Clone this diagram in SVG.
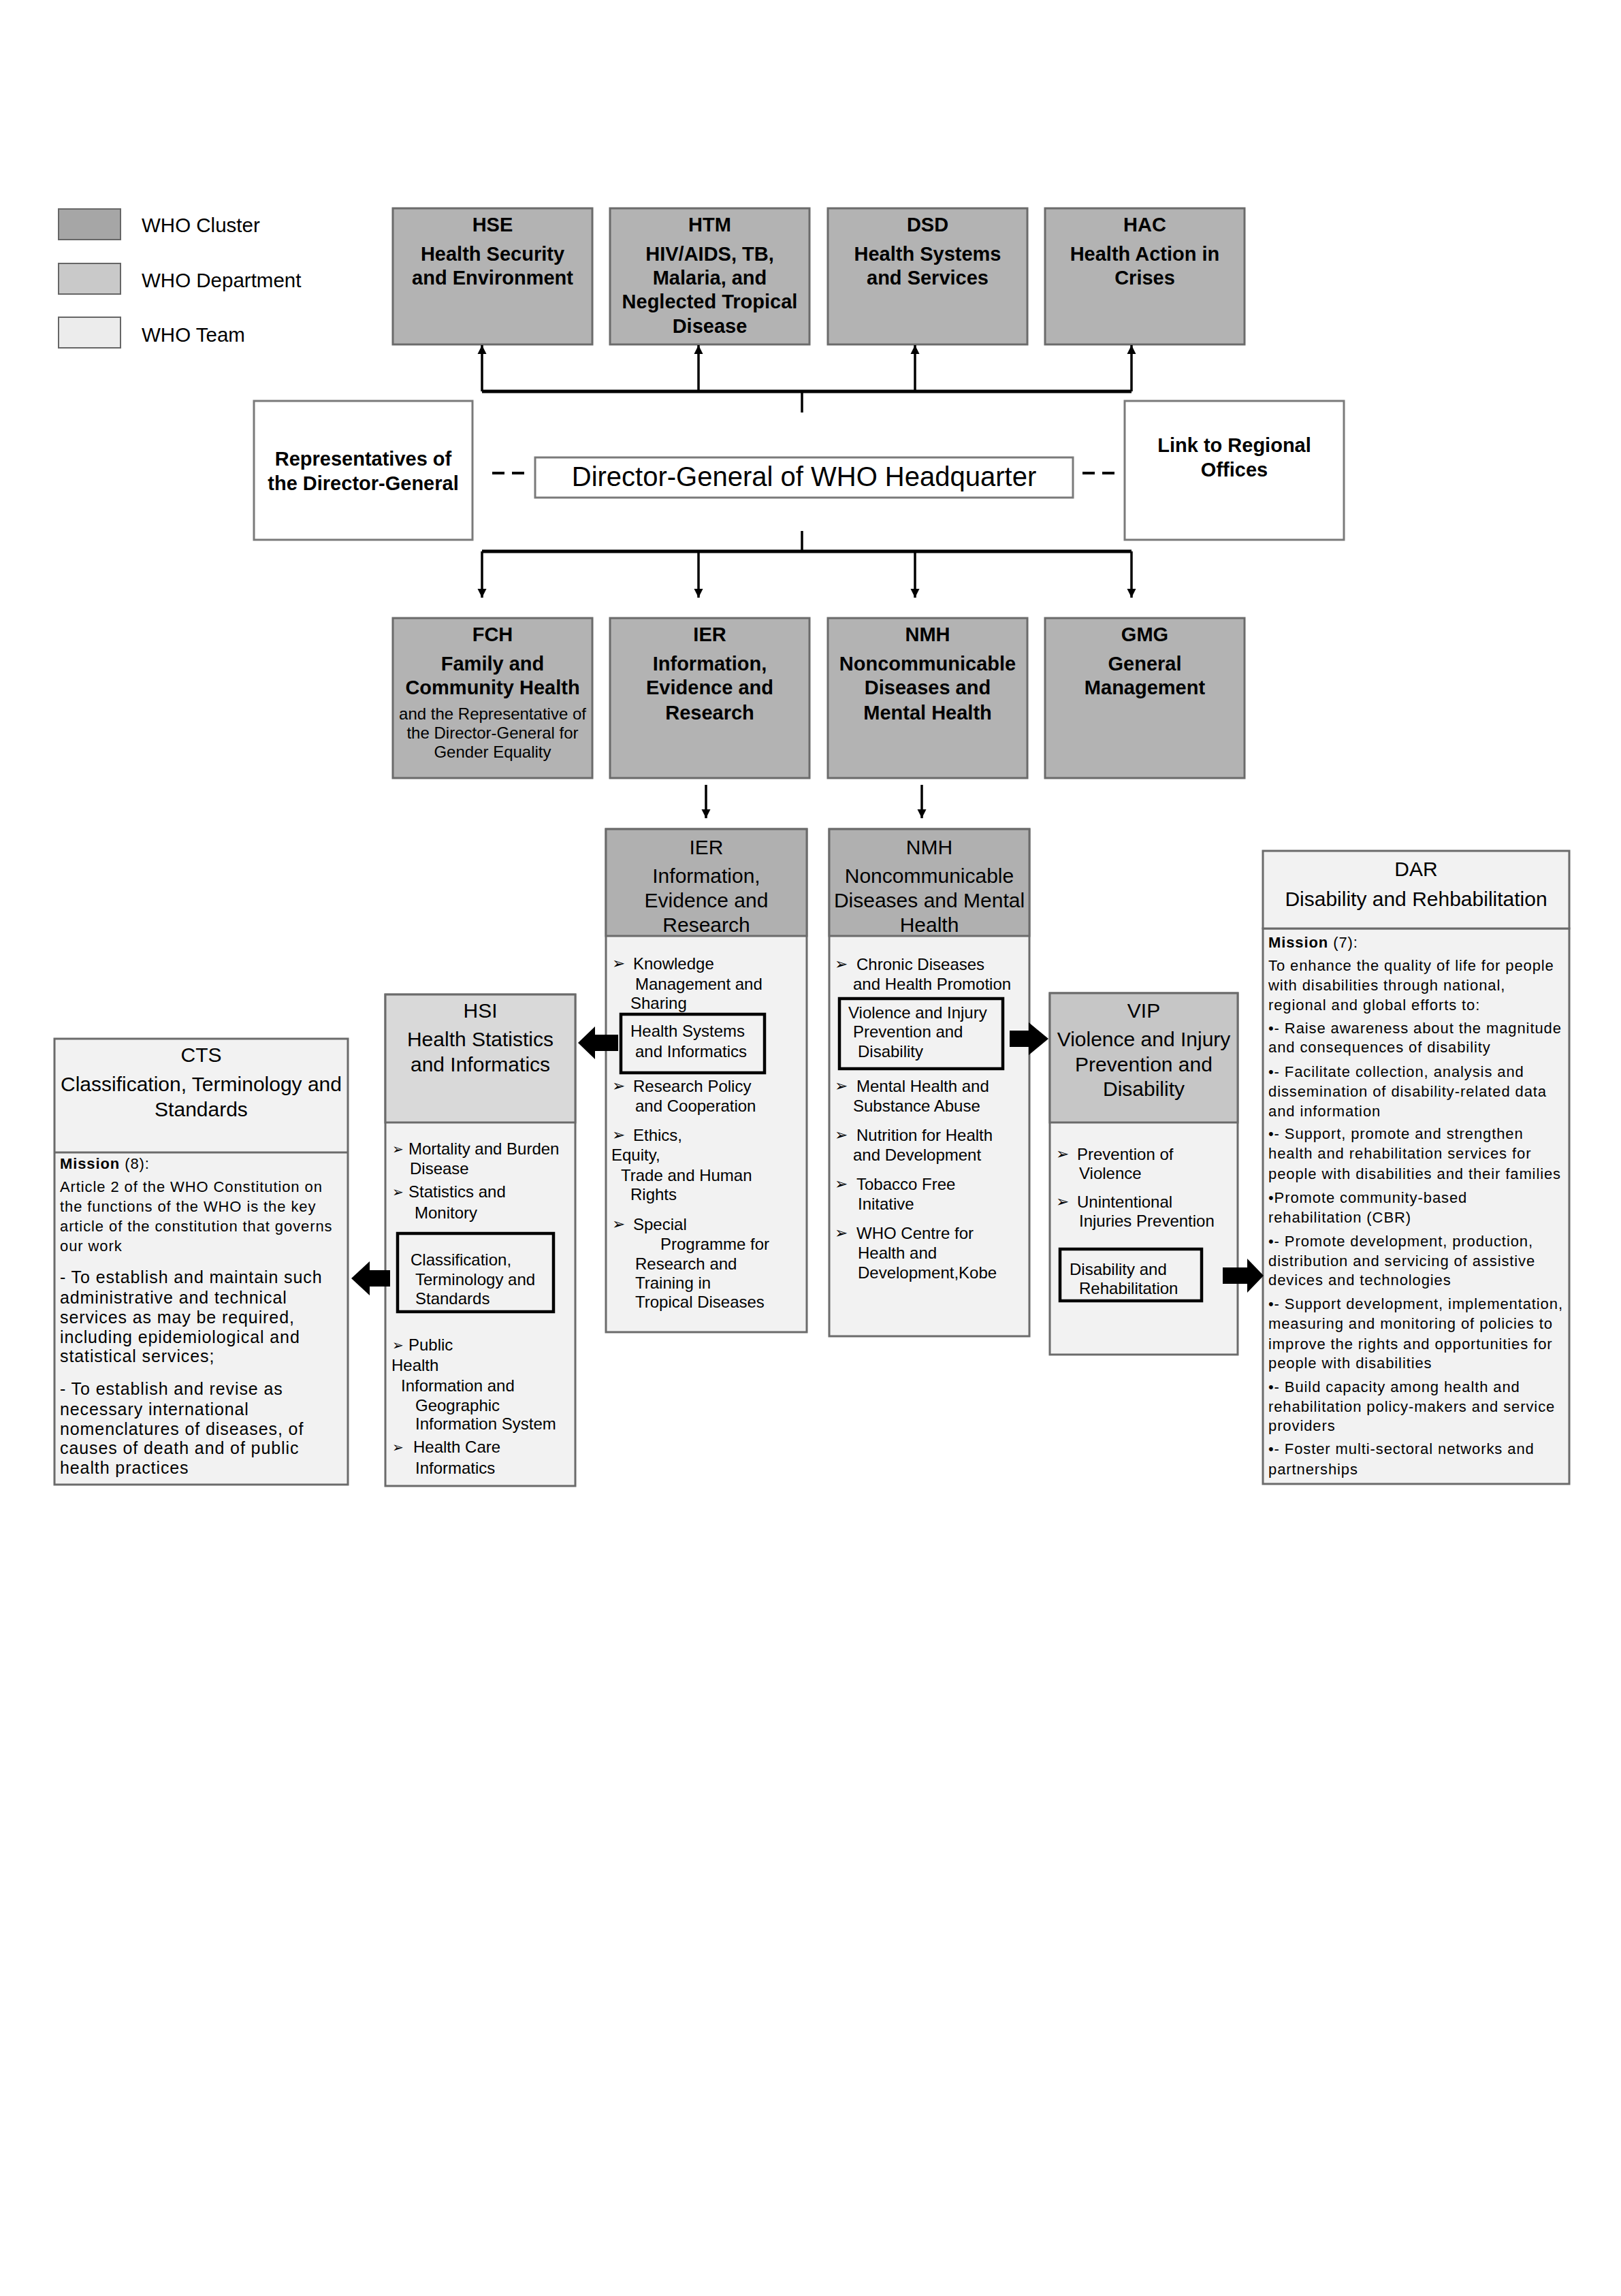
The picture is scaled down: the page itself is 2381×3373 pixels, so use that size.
<svg xmlns="http://www.w3.org/2000/svg" width="2381" height="3373" viewBox="0 0 2381 3373">
<style>
text{font-family:"Liberation Sans",Arial,sans-serif;fill:#000}
.cl{fill:#b3b3b3;stroke:#6b6b6b;stroke-width:3}
.wb{fill:#fff;stroke:#7a7a7a;stroke-width:3}
.bd{fill:#f2f2f2;stroke:#6b6b6b;stroke-width:3}
.hd1{fill:#b0b0b0;stroke:#6b6b6b;stroke-width:3}
.hd2{fill:#d9d9d9;stroke:#6b6b6b;stroke-width:3}
.hd3{fill:#c6c6c6;stroke:#6b6b6b;stroke-width:3}
.ib{fill:none;stroke:#000;stroke-width:4.5}
.sw{stroke:#666;stroke-width:2}
.tb{font-size:29px;font-weight:bold;text-anchor:middle}
.ts{font-size:24px;text-anchor:middle}
.t30{font-size:30px;text-anchor:middle}
.lg{font-size:29.5px}
.t24{font-size:24px}
.bul{font-family:"DejaVu Sans",sans-serif;font-size:23px}
.bus{font-family:"DejaVu Sans",sans-serif;font-size:20px}
.m22{font-size:22px;letter-spacing:0.9px}
.m25{font-size:25px;letter-spacing:0.9px}
.ln{stroke:#000;stroke-width:3.5;fill:none}
.bar{stroke:#000;stroke-width:5;fill:none}
.dash{stroke:#000;stroke-width:4;stroke-dasharray:18 11;fill:none}
.blk{fill:#000}
</style>
<defs>
<marker id="ah" viewBox="0 0 10 10" refX="10" refY="5" markerWidth="13" markerHeight="16" markerUnits="userSpaceOnUse" orient="auto"><path d="M0,0 L10,5 L0,10 z" fill="#000"/></marker>
</defs>
<rect width="2381" height="3373" fill="#fff"/>

<g id="legend">
<rect x="86" y="307" width="91" height="45" fill="#a6a6a6" class="sw"/>
<rect x="86" y="387" width="91" height="45" fill="#c9c9c9" class="sw"/>
<rect x="86" y="466" width="91" height="45" fill="#ececec" class="sw"/>
<text x="208" y="341" class="lg">WHO Cluster</text>
<text x="208" y="422" class="lg">WHO Department</text>
<text x="208" y="502" class="lg">WHO Team</text>
</g>

<g id="HSE"><rect x="577" y="306" width="293" height="200" class="cl"/>
<text x="723.5" y="340" class="tb">HSE</text><text x="723.5" y="383" class="tb">Health Security</text><text x="723.5" y="418" class="tb">and Environment</text></g>
<g id="HTM"><rect x="896" y="306" width="293" height="200" class="cl"/>
<text x="1042.5" y="340" class="tb">HTM</text><text x="1042.5" y="383" class="tb">HIV/AIDS, TB,</text><text x="1042.5" y="418" class="tb">Malaria, and</text><text x="1042.5" y="453" class="tb">Neglected Tropical</text><text x="1042.5" y="489" class="tb">Disease</text></g>
<g id="DSD"><rect x="1216" y="306" width="293" height="200" class="cl"/>
<text x="1362.5" y="340" class="tb">DSD</text><text x="1362.5" y="383" class="tb">Health Systems</text><text x="1362.5" y="418" class="tb">and Services</text></g>
<g id="HAC"><rect x="1535" y="306" width="293" height="200" class="cl"/>
<text x="1681.5" y="340" class="tb">HAC</text><text x="1681.5" y="383" class="tb">Health Action in</text><text x="1681.5" y="418" class="tb">Crises</text></g>

<g id="REP"><rect x="373" y="589" width="321" height="204" class="wb"/>
<text x="533.5" y="684" class="tb">Representatives of</text><text x="533.5" y="720" class="tb">the Director-General</text></g>
<g id="DG"><rect x="786" y="672" width="790" height="59" class="wb"/>
<text x="1181" y="714" style="font-size:40px;text-anchor:middle">Director-General of WHO Headquarter</text></g>
<g id="LINK"><rect x="1652" y="589" width="322" height="204" class="wb"/>
<text x="1813" y="664" class="tb">Link to Regional</text><text x="1813" y="700" class="tb">Offices</text></g>

<g id="FCH"><rect x="577" y="908" width="293" height="235" class="cl"/>
<text x="723.5" y="942" class="tb">FCH</text><text x="723.5" y="985" class="tb">Family and</text><text x="723.5" y="1020" class="tb">Community Health</text>
<text x="723.5" y="1057" class="ts">and the Representative of</text><text x="723.5" y="1085" class="ts">the Director-General for</text><text x="723.5" y="1113" class="ts">Gender Equality</text></g>
<g id="IER"><rect x="896" y="908" width="293" height="235" class="cl"/>
<text x="1042.5" y="942" class="tb">IER</text><text x="1042.5" y="985" class="tb">Information,</text><text x="1042.5" y="1020" class="tb">Evidence and</text><text x="1042.5" y="1057" class="tb">Research</text></g>
<g id="NMH"><rect x="1216" y="908" width="293" height="235" class="cl"/>
<text x="1362.5" y="942" class="tb">NMH</text><text x="1362.5" y="985" class="tb">Noncommunicable</text><text x="1362.5" y="1020" class="tb">Diseases and</text><text x="1362.5" y="1057" class="tb">Mental Health</text></g>
<g id="GMG"><rect x="1535" y="908" width="293" height="235" class="cl"/>
<text x="1681.5" y="942" class="tb">GMG</text><text x="1681.5" y="985" class="tb">General</text><text x="1681.5" y="1020" class="tb">Management</text></g>

<g id="IER-dept">
<rect x="890" y="1218" width="295" height="739" class="bd"/>
<rect x="890" y="1218" width="295" height="157" class="hd1"/>
<text x="1037.5" y="1255" class="t30">IER</text><text x="1037.5" y="1297" class="t30">Information,</text><text x="1037.5" y="1333" class="t30">Evidence and</text><text x="1037.5" y="1369" class="t30">Research</text>
<rect x="912" y="1490" width="211" height="86" class="ib"/>
<text x="899" y="1423" class="bul">➢</text><text x="930" y="1424" class="t24">Knowledge</text>
<text x="933" y="1454" class="t24">Management and</text>
<text x="926" y="1482" class="t24">Sharing</text>
<text x="926" y="1523" class="t24">Health Systems</text>
<text x="933" y="1553" class="t24">and Informatics</text>
<text x="899" y="1603" class="bul">➢</text><text x="930" y="1604" class="t24">Research Policy</text>
<text x="933" y="1633" class="t24">and Cooperation</text>
<text x="899" y="1675" class="bul">➢</text><text x="930" y="1676" class="t24">Ethics,</text>
<text x="898" y="1705" class="t24">Equity,</text>
<text x="912" y="1735" class="t24">Trade and Human</text>
<text x="926" y="1763" class="t24">Rights</text>
<text x="899" y="1806" class="bul">➢</text><text x="930" y="1807" class="t24">Special</text>
<text x="970" y="1836" class="t24">Programme for</text>
<text x="933" y="1865" class="t24">Research and</text>
<text x="933" y="1893" class="t24">Training in</text>
<text x="933" y="1921" class="t24">Tropical Diseases</text>
</g>

<g id="NMH-dept">
<rect x="1218" y="1218" width="294" height="745" class="bd"/>
<rect x="1218" y="1218" width="294" height="157" class="hd1"/>
<text x="1365" y="1255" class="t30">NMH</text><text x="1365" y="1297" class="t30">Noncommunicable</text><text x="1365" y="1333" class="t30">Diseases and Mental</text><text x="1365" y="1369" class="t30">Health</text>
<rect x="1233" y="1467" width="240" height="103" class="ib"/>
<text x="1226" y="1424" class="bul">➢</text><text x="1258" y="1425" class="t24">Chronic Diseases</text>
<text x="1253" y="1454" class="t24">and Health Promotion</text>
<text x="1246" y="1496" class="t24">Violence and Injury</text>
<text x="1253" y="1524" class="t24">Prevention and</text>
<text x="1260" y="1553" class="t24">Disability</text>
<text x="1226" y="1603" class="bul">➢</text><text x="1258" y="1604" class="t24">Mental Health and</text>
<text x="1253" y="1633" class="t24">Substance Abuse</text>
<text x="1226" y="1675" class="bul">➢</text><text x="1258" y="1676" class="t24">Nutrition for Health</text>
<text x="1253" y="1705" class="t24">and Development</text>
<text x="1226" y="1747" class="bul">➢</text><text x="1258" y="1748" class="t24">Tobacco Free</text>
<text x="1260" y="1777" class="t24">Initative</text>
<text x="1226" y="1819" class="bul">➢</text><text x="1258" y="1820" class="t24">WHO Centre for</text>
<text x="1260" y="1849" class="t24">Health and</text>
<text x="1260" y="1878" class="t24">Development,Kobe</text>
</g>

<g id="HSI">
<rect x="566" y="1461" width="279" height="722" class="bd"/>
<rect x="566" y="1461" width="279" height="188" class="hd2"/>
<text x="705.5" y="1495" class="t30">HSI</text><text x="705.5" y="1537" class="t30">Health Statistics</text><text x="705.5" y="1574" class="t30">and Informatics</text>
<rect x="584" y="1812" width="229" height="115" class="ib"/>
<text x="576" y="1695" class="bus">➢</text><text x="600" y="1696" class="t24">Mortality and Burden</text>
<text x="602" y="1725" class="t24">Disease</text>
<text x="576" y="1758" class="bus">➢</text><text x="600" y="1759" class="t24">Statistics and</text>
<text x="609" y="1790" class="t24">Monitory</text>
<text x="603" y="1859" class="t24">Classification,</text>
<text x="610" y="1888" class="t24">Terminology and</text>
<text x="610" y="1916" class="t24">Standards</text>
<text x="576" y="1983" class="bus">➢</text><text x="600" y="1984" class="t24">Public</text>
<text x="575" y="2014" class="t24">Health</text>
<text x="589" y="2044" class="t24">Information and</text>
<text x="610" y="2073" class="t24">Geographic</text>
<text x="610" y="2100" class="t24">Information System</text>
<text x="576" y="2133" class="bus">➢</text><text x="607" y="2134" class="t24">Health Care</text>
<text x="610" y="2165" class="t24">Informatics</text>
</g>

<g id="CTS">
<rect x="80" y="1526" width="431" height="655" class="bd"/>
<line x1="80" y1="1693" x2="511" y2="1693" stroke="#6b6b6b" stroke-width="3"/>
<text x="295.5" y="1560" class="t30">CTS</text><text x="295.5" y="1603" class="t30">Classification, Terminology and</text><text x="295.5" y="1640" class="t30">Standards</text>
<text x="88" y="1717" class="m22"><tspan font-weight="bold">Mission</tspan> (8):</text>
<text x="88" y="1751" class="m22">Article 2 of the WHO Constitution on</text>
<text x="88" y="1780" class="m22">the functions of the WHO is the key</text>
<text x="88" y="1809" class="m22">article of the constitution that governs</text>
<text x="88" y="1838" class="m22">our work</text>
<text x="88" y="1885" class="m25">- To establish and maintain such</text>
<text x="88" y="1915" class="m25">administrative and technical</text>
<text x="88" y="1944" class="m25">services as may be required,</text>
<text x="88" y="1973" class="m25">including epidemiological and</text>
<text x="88" y="2001" class="m25">statistical services;</text>
<text x="88" y="2049" class="m25">- To establish and revise as</text>
<text x="88" y="2079" class="m25">necessary international</text>
<text x="88" y="2108" class="m25">nomenclatures of diseases, of</text>
<text x="88" y="2136" class="m25">causes of death and of public</text>
<text x="88" y="2165" class="m25">health practices</text>
</g>

<g id="VIP">
<rect x="1542" y="1459" width="276" height="531" class="bd"/>
<rect x="1542" y="1459" width="276" height="190" class="hd3"/>
<text x="1680" y="1495" class="t30">VIP</text><text x="1680" y="1537" class="t30">Violence and Injury</text><text x="1680" y="1574" class="t30">Prevention and</text><text x="1680" y="1610" class="t30">Disability</text>
<rect x="1557" y="1835" width="208" height="76" class="ib"/>
<text x="1551" y="1703" class="bul">➢</text><text x="1582" y="1704" class="t24">Prevention of</text>
<text x="1585" y="1732" class="t24">Violence</text>
<text x="1551" y="1773" class="bul">➢</text><text x="1582" y="1774" class="t24">Unintentional</text>
<text x="1585" y="1802" class="t24">Injuries Prevention</text>
<text x="1571" y="1873" class="t24">Disability and</text>
<text x="1585" y="1901" class="t24">Rehabilitation</text>
</g>

<g id="DAR">
<rect x="1855" y="1364" width="450" height="816" class="bd"/>
<rect x="1855" y="1250" width="450" height="114" class="bd"/>
<text x="2080" y="1287" class="t30">DAR</text><text x="2080" y="1331" class="t30">Disability and Rehbabilitation</text>
<text x="1863" y="1392" class="m22"><tspan font-weight="bold">Mission</tspan>  (7):</text>
<text x="1863" y="1426" class="m22">To enhance the quality of life for people</text>
<text x="1863" y="1455" class="m22">with disabilities through national,</text>
<text x="1863" y="1484" class="m22">regional and global efforts to:</text>
<text x="1863" y="1518" class="m22">•- Raise awareness about the magnitude</text>
<text x="1863" y="1546" class="m22">and consequences of disability</text>
<text x="1863" y="1582" class="m22">•- Facilitate collection, analysis and</text>
<text x="1863" y="1611" class="m22">dissemination of disability-related data</text>
<text x="1863" y="1640" class="m22">and information</text>
<text x="1863" y="1673" class="m22">•- Support, promote and strengthen</text>
<text x="1863" y="1702" class="m22">health and rehabilitation services for</text>
<text x="1863" y="1732" class="m22">people with disabilities and their families</text>
<text x="1863" y="1767" class="m22">•Promote community-based</text>
<text x="1863" y="1796" class="m22">rehabilitation (CBR)</text>
<text x="1863" y="1831" class="m22">•- Promote development, production,</text>
<text x="1863" y="1860" class="m22">distribution and servicing of assistive</text>
<text x="1863" y="1888" class="m22">devices and technologies</text>
<text x="1863" y="1923" class="m22">•- Support development, implementation,</text>
<text x="1863" y="1952" class="m22">measuring and monitoring of policies to</text>
<text x="1863" y="1982" class="m22">improve the rights and opportunities for</text>
<text x="1863" y="2010" class="m22">people with disabilities</text>
<text x="1863" y="2045" class="m22">•- Build capacity among health and</text>
<text x="1863" y="2074" class="m22">rehabilitation policy-makers and service</text>
<text x="1863" y="2102" class="m22">providers</text>
<text x="1863" y="2136" class="m22">•- Foster multi-sectoral networks and</text>
<text x="1863" y="2166" class="m22">partnerships</text>
</g>

<g id="connectors">
<line x1="708" y1="575" x2="1662" y2="575" class="bar"/>
<line x1="1178" y1="575" x2="1178" y2="606" class="ln"/>
<line x1="708" y1="575" x2="708" y2="507" class="ln" marker-end="url(#ah)"/>
<line x1="1026" y1="575" x2="1026" y2="507" class="ln" marker-end="url(#ah)"/>
<line x1="1344" y1="575" x2="1344" y2="507" class="ln" marker-end="url(#ah)"/>
<line x1="1662" y1="575" x2="1662" y2="507" class="ln" marker-end="url(#ah)"/>
<line x1="723" y1="695" x2="770" y2="695" class="dash"/>
<line x1="1590" y1="695" x2="1637" y2="695" class="dash"/>
<line x1="1178" y1="780" x2="1178" y2="810" class="ln"/>
<line x1="708" y1="810" x2="1662" y2="810" class="bar"/>
<line x1="708" y1="810" x2="708" y2="878" class="ln" marker-end="url(#ah)"/>
<line x1="1026" y1="810" x2="1026" y2="878" class="ln" marker-end="url(#ah)"/>
<line x1="1344" y1="810" x2="1344" y2="878" class="ln" marker-end="url(#ah)"/>
<line x1="1662" y1="810" x2="1662" y2="878" class="ln" marker-end="url(#ah)"/>
<line x1="1037" y1="1153" x2="1037" y2="1202" class="ln" marker-end="url(#ah)"/>
<line x1="1354" y1="1153" x2="1354" y2="1202" class="ln" marker-end="url(#ah)"/>
<polygon class="blk" points="849,1532 874,1508 874,1520 908,1520 908,1544 874,1544 874,1556"/>
<polygon class="blk" points="516,1878 543,1853 543,1866 573,1866 573,1890 543,1890 543,1903"/>
<polygon class="blk" points="1483,1514 1511,1514 1511,1502 1540,1526 1511,1550 1511,1538 1483,1538"/>
<polygon class="blk" points="1796,1862 1832,1862 1832,1849 1856,1874 1832,1899 1832,1886 1796,1886"/>
</g>
</svg>
